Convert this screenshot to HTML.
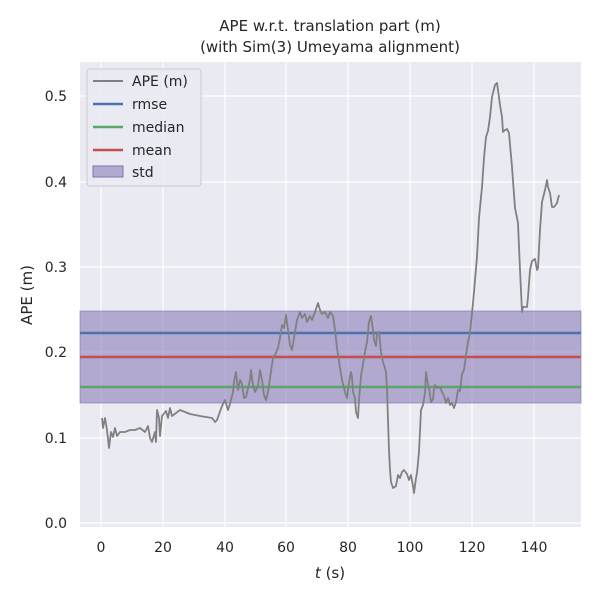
<!DOCTYPE html>
<html><head><meta charset="utf-8"><style>body{margin:0;background:#fff}svg{display:block;font-family:"DejaVu Sans","Liberation Sans",sans-serif}</style></head><body>
<svg width="600" height="600" xmlns="http://www.w3.org/2000/svg">
<rect width="600" height="600" fill="#fff"/>
<rect x="80" y="62" width="501" height="465" fill="#eaeaf2"/>
<g stroke="#fff" stroke-width="1.2">
<line x1="101" y1="62" x2="101" y2="527"/><line x1="163" y1="62" x2="163" y2="527"/><line x1="225" y1="62" x2="225" y2="527"/><line x1="286" y1="62" x2="286" y2="527"/><line x1="348" y1="62" x2="348" y2="527"/><line x1="410" y1="62" x2="410" y2="527"/><line x1="472" y1="62" x2="472" y2="527"/><line x1="534" y1="62" x2="534" y2="527"/>
<line x1="80" y1="523" x2="581" y2="523"/><line x1="80" y1="438" x2="581" y2="438"/><line x1="80" y1="352" x2="581" y2="352"/><line x1="80" y1="267" x2="581" y2="267"/><line x1="80" y1="182" x2="581" y2="182"/><line x1="80" y1="96" x2="581" y2="96"/>
</g>
<rect x="80" y="311" width="501" height="92" fill="#8172b3" fill-opacity="0.55" stroke="#8172b3" stroke-opacity="0.6"/>
<line x1="80" y1="333" x2="581" y2="333" stroke="#4c72b0" stroke-width="2.5"/>
<line x1="80" y1="357" x2="581" y2="357" stroke="#c44e52" stroke-width="2.5"/>
<line x1="80" y1="387" x2="581" y2="387" stroke="#55a868" stroke-width="2.5"/>
<polyline fill="none" stroke="#808080" stroke-width="1.8" stroke-linejoin="round" points="102,418 103,428 105,418 107,430 109,448 111,432 113,437 115,428 117,436 120,432 125,432 130,430 135,430 140,428 145,432 148,426 150,438 152,442 155,432 156,442 157,410 159,418 160,436 162,416 166,411 168,418 170,408 172,416 180,410 190,414 200,416 212,418 215,422 217,420 222,406 225,400 228,410 230,404 233,392 234,382 236,372 238,390 240,380 242,384 244,398 246,397 248,388 250,380 251,370 253,385 255,392 258,386 260,370 262,380 264,395 266,400 268,392 270,378 273,358 275,355 278,348 280,338 282,325 284,328 286,315 288,330 290,345 292,350 294,338 297,320 300,312 302,318 305,314 307,322 310,316 312,320 315,312 318,303 320,310 322,314 325,312 328,318 330,312 333,316 335,330 337,348 340,368 342,380 345,392 347,398 349,382 351,372 352,377 353,392 355,398 356,412 358,418 359,400 361,376 363,364 365,352 367,342 369,322 371,316 373,330 374,340 376,346 377,334 379,332 381,352 383,362 385,368 386,372 387,390 388,420 389,450 390,470 391,482 393,488 396,486 398,475 400,478 402,472 404,470 407,474 409,480 411,475 413,486 414,493 416,478 417,473 419,452 421,410 423,405 425,393 426,372 428,385 429,388 430,395 431,402 433,399 434,390 435,385 437,388 440,387 442,392 444,396 446,403 448,398 450,405 452,403 454,408 456,402 458,390 460,391 462,374 464,370 466,355 468,342 470,333 473,303 477,257 479,218 482,187 484,158 486,137 488,131 490,117 492,97 495,85 497,83 498,90 500,105 502,117 503,132 505,130 507,129 509,133 512,167 515,208 518,223 520,270 522,312 523,307 527,307 528,297 530,270 532,261 535,259 537,270 538,268 540,230 542,202 545,190 547,180 548,187 550,193 552,207 554,207 557,203 559,195"/>
<g font-size="14" fill="#262626">
<g text-anchor="middle">
<text x="101" y="552">0</text><text x="163" y="552">20</text><text x="225" y="552">40</text><text x="286" y="552">60</text><text x="348" y="552">80</text><text x="410" y="552">100</text><text x="472" y="552">120</text><text x="534" y="552">140</text>
</g>
<g text-anchor="end">
<text x="67" y="528">0.0</text><text x="67" y="443">0.1</text><text x="67" y="357">0.2</text><text x="67" y="272">0.3</text><text x="67" y="187">0.4</text><text x="67" y="101">0.5</text>
</g>
<text x="330" y="578" text-anchor="middle" font-size="15"><tspan font-style="italic">t</tspan> (s)</text>
<text x="32" y="295" text-anchor="middle" font-size="15" transform="rotate(-90 32 295)">APE (m)</text>
<text x="330" y="31" text-anchor="middle" font-size="15">APE w.r.t. translation part (m)</text>
<text x="330" y="52" text-anchor="middle" font-size="15">(with Sim(3) Umeyama alignment)</text>
</g>
<rect x="87" y="69" width="114" height="117" rx="3" fill="#eaeaf2" fill-opacity="0.8" stroke="#ccc"/>
<g font-size="14" fill="#262626">
<line x1="93" y1="81" x2="123" y2="81" stroke="#808080" stroke-width="2"/><text x="132" y="86">APE (m)</text>
<line x1="93" y1="104" x2="123" y2="104" stroke="#4c72b0" stroke-width="2.5"/><text x="132" y="109">rmse</text>
<line x1="93" y1="127" x2="123" y2="127" stroke="#55a868" stroke-width="2.5"/><text x="132" y="132">median</text>
<line x1="93" y1="150" x2="123" y2="150" stroke="#c44e52" stroke-width="2.5"/><text x="132" y="155">mean</text>
<rect x="93" y="166" width="30" height="11" fill="#8172b3" fill-opacity="0.55" stroke="#8172b3"/><text x="132" y="177">std</text>
</g>
</svg>
</body></html>
